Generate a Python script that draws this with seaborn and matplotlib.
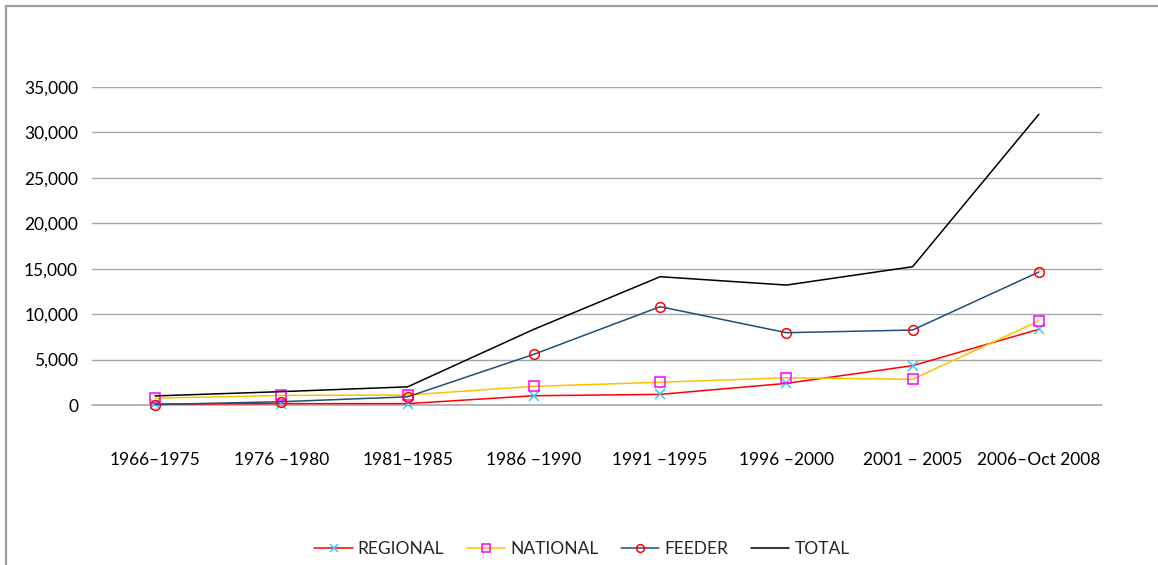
import matplotlib
matplotlib.use('Agg')
import matplotlib.pyplot as plt
from matplotlib.patches import Rectangle
from matplotlib.ticker import FuncFormatter
import pandas as pd
import seaborn as sns

# Data
periods = ['1966–1975', '1976 –1980', '1981–1985', '1986 –1990',
           '1991 –1995', '1996 –2000', '2001 – 2005', '2006–Oct 2008']
regional = [100, 150, 150, 1020, 1170, 2380, 4330, 8330]
national = [750, 1050, 1100, 2050, 2500, 3000, 2830, 9250]
feeder = [50, 360, 900, 5580, 10820, 7960, 8250, 14640]
total = [1000, 1470, 2000, 8330, 14120, 13200, 15220, 32000]

series = {'REGIONAL': regional, 'NATIONAL': national, 'FEEDER': feeder, 'TOTAL': total}
df = pd.DataFrame({'x': list(range(len(periods))) * 4,
                   'value': regional + national + feeder + total,
                   'series': [s for s in series for _ in periods]})

# line colour, marker, marker colour
styles = {
    'REGIONAL': ('#ff0000', 'x', '#33ccff'),
    'NATIONAL': ('#ffc000', 's', '#ff00ff'),
    'FEEDER': ('#1f4e79', 'o', '#ff0000'),
    'TOTAL': ('#000000', '', None),
}

sns.set_style('white')
plt.rcParams['font.family'] = ['Lato', 'DejaVu Sans']
fs = 12.5

fig = plt.figure(figsize=(11.58, 5.65), dpi=100)
ax = fig.add_axes([92 / 1158, 1 - 405 / 565, 1010 / 1158, 318 / 565])

ax.axhline(0, color='#b0b0b0', linewidth=1.3, zorder=1, clip_on=False)
for name, (lc, mk, mc) in styles.items():
    sub = df[df['series'] == name]
    kw = dict(marker=mk, markersize=7, markerfacecolor='none',
              markeredgecolor=mc, markeredgewidth=1.1) if mk else {}
    sns.lineplot(data=sub, x='x', y='value', ax=ax, color=lc, linewidth=1.1,
                 label=name, clip_on=False, zorder=3, **kw)

ax.set_xlim(-0.5, len(periods) - 0.5)
ax.set_ylim(0, 35000)
ax.set_yticks(range(0, 35001, 5000))
ax.yaxis.set_major_formatter(FuncFormatter(lambda v, p: f'{int(v):,}'))
ax.set_xticks(range(len(periods)))
ax.set_xticklabels(periods)
ax.tick_params(axis='x', length=0, pad=34, labelsize=fs, colors='#000000')
ax.tick_params(axis='y', length=0, pad=10, labelsize=fs, colors='#000000')
ax.set_xlabel('')
ax.set_ylabel('')
ax.grid(axis='y', color='#a6a6a6', linewidth=1)
ax.grid(axis='x', visible=False)
for s in ax.spines.values():
    s.set_visible(False)

leg = ax.legend(loc='center', bbox_to_anchor=(582 / 1158, 1 - 549 / 565),
                bbox_transform=fig.transFigure, ncol=4, frameon=False,
                fontsize=fs, handlelength=2.2, columnspacing=1.3,
                handletextpad=0.3, markerscale=0.8)

fig.patches.append(Rectangle((6 / 1158, -0.1), 1.2, 1.1 - 6 / 565, fill=False,
                             edgecolor='#a0a0a0', linewidth=1.6,
                             transform=fig.transFigure, figure=fig))

fig.savefig('out.png', dpi=100)
